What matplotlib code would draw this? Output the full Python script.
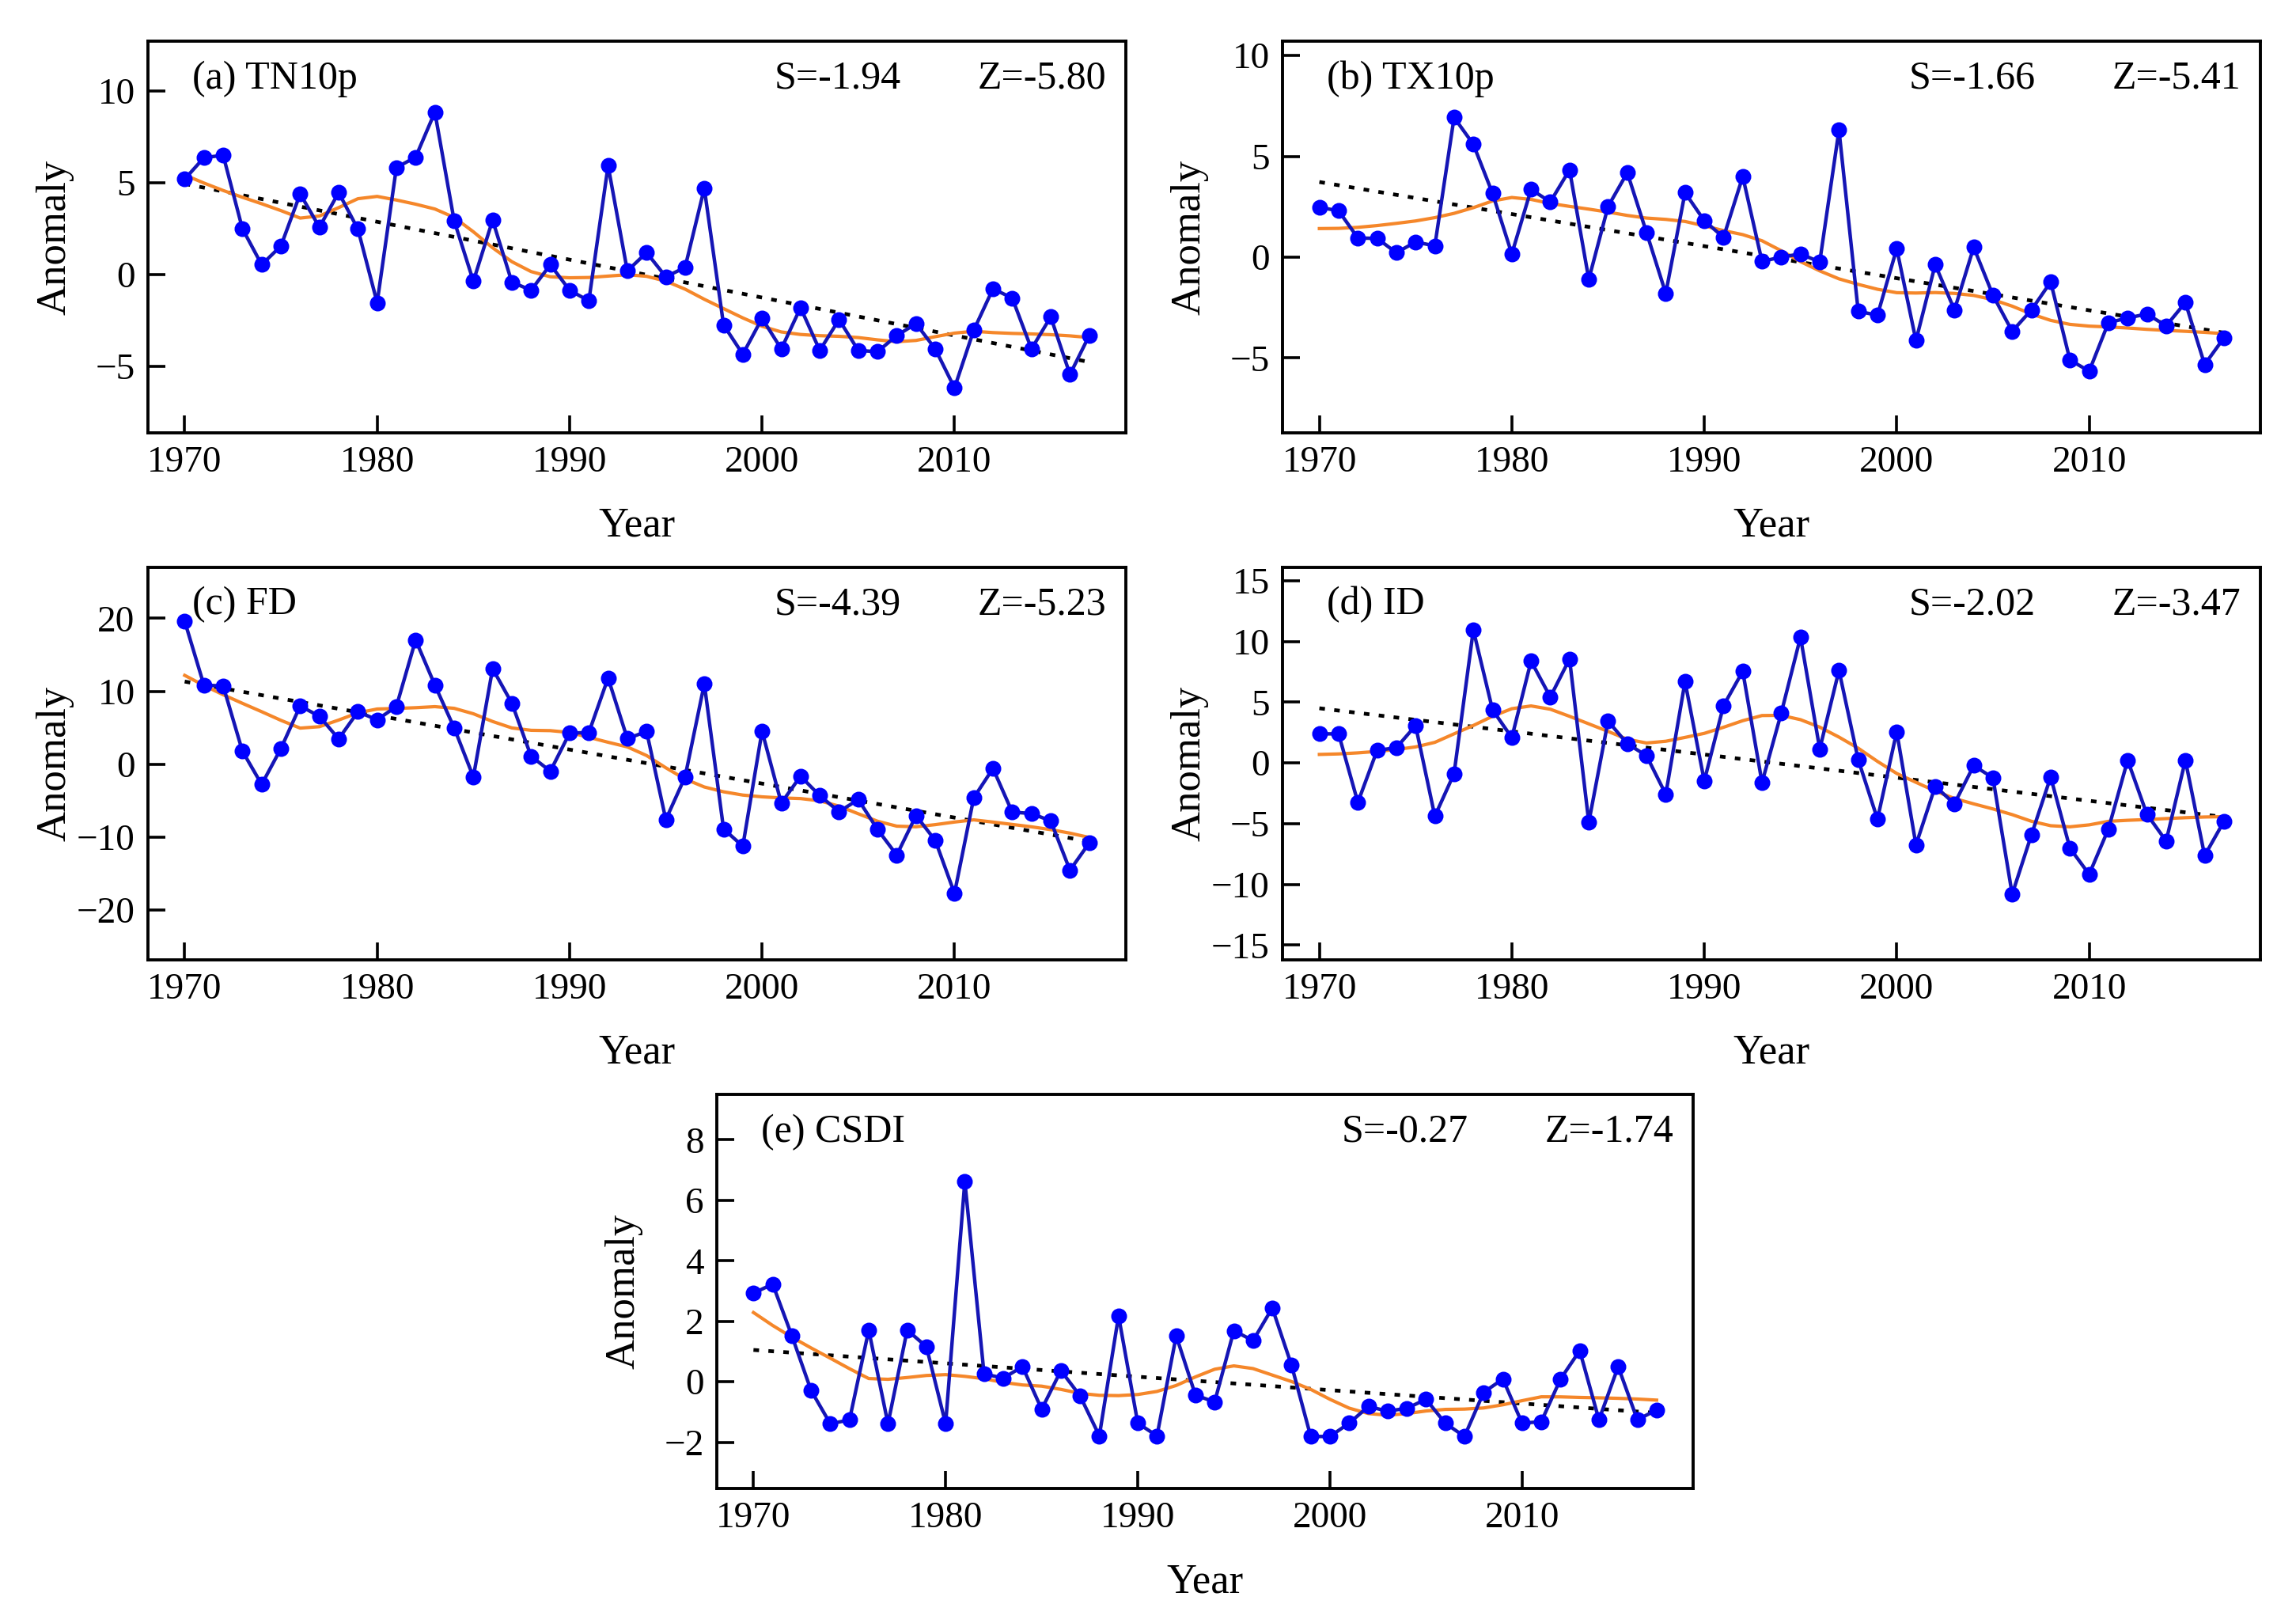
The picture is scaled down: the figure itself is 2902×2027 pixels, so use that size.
import numpy as np
import matplotlib
matplotlib.use("Agg")
import matplotlib.pyplot as plt

plt.rcParams['font.family'] = ['Liberation Serif', 'DejaVu Serif']

years = list(range(1970, 2018))

tn10p = [5.2, 6.37, 6.5, 2.5, 0.54, 1.56, 4.4, 2.58, 4.47, 2.48,
         -1.53, 5.83, 6.4, 8.85, 2.94, -0.36, 2.97, -0.41, -0.85, 0.54,
         -0.85, -1.43, 5.93, 0.2, 1.2, -0.12, 0.39, 4.7, -2.74, -4.34,
         -2.38, -4.05, -1.8, -4.13, -2.45, -4.13, -4.2, -3.32, -2.67, -4.05,
         -6.17, -3.03, -0.77, -1.28, -4.05, -2.3, -5.44, -3.32]

tx10p = [2.47, 2.3, 0.95, 0.93, 0.22, 0.75, 0.56, 6.93, 5.6, 3.16,
         0.16, 3.36, 2.74, 4.33, -1.1, 2.51, 4.19, 1.22, -1.8, 3.2,
         1.81, 0.98, 4.0, -0.21, 0.0, 0.16, -0.24, 6.31, -2.69, -2.88,
         0.42, -4.14, -0.37, -2.62, 0.49, -1.89, -3.68, -2.62, -1.23, -5.1,
         -5.66, -3.25, -3.02, -2.82, -3.41, -2.25, -5.33, -4.01]

fd = [19.6, 10.84, 10.73, 1.79, -2.77, 2.15, 7.99, 6.57, 3.47, 7.19,
      6.09, 7.92, 17.04, 10.84, 5.0, -1.75, 13.1, 8.36, 1.09, -0.95,
      4.27, 4.34, 11.82, 3.5, 4.5, -7.59, -1.75, 11.02, -8.87, -11.24,
      4.53, -5.33, -1.64, -4.31, -6.5, -4.85, -8.94, -12.45, -7.04, -10.44,
      -17.7, -4.6, -0.58, -6.57, -6.75, -7.77, -14.53, -10.8]

id_ = [2.39, 2.39, -3.25, 1.03, 1.25, 3.07, -4.39, -0.88, 10.94, 4.36,
       2.08, 8.38, 5.42, 8.55, -4.89, 3.44, 1.58, 0.59, -2.59, 6.69,
       -1.49, 4.71, 7.54, -1.62, 4.1, 10.35, 1.14, 7.61, 0.26, -4.63,
       2.57, -6.75, -1.93, -3.36, -0.22, -1.23, -10.81, -5.92, -1.16, -7.02,
       -9.17, -5.44, 0.22, -4.23, -6.43, 0.22, -7.63, -4.82]

csdi = [2.93, 3.23, 1.52, -0.29, -1.39, -1.26, 1.71, -1.39, 1.71, 1.16,
        -1.39, 6.63, 0.26, 0.12, 0.5, -0.91, 0.37, -0.47, -1.79, 2.18,
        -1.37, -1.79, 1.52, -0.44, -0.67, 1.69, 1.36, 2.44, 0.55, -1.81,
        -1.81, -1.37, -0.82, -0.97, -0.88, -0.58, -1.37, -1.81, -0.35, 0.09,
        -1.37, -1.32, 0.09, 1.03, -1.26, 0.5, -1.26, -0.93]

titles = ["(a) TN10p", "(b) TX10p", "(c) FD", "(d) ID", "(e) CSDI"]
s_texts = ["S=-1.94", "S=-1.66", "S=-4.39", "S=-2.02", "S=-0.27"]
z_texts = ["Z=-5.80", "Z=-5.41", "Z=-5.23", "Z=-3.47", "Z=-1.74"]
yticks_list = [[10, 5, 0, -5], [10, 5, 0, -5], [20, 10, 0, -10, -20],
               [15, 10, 5, 0, -5, -10, -15], [8, 6, 4, 2, 0, -2]]
ylims = [(-8.6, 12.7), (-8.7, 10.7), (-26.8, 27.0), (-16.2, 16.1), (-3.53, 9.5)]
xticks = [1970, 1980, 1990, 2000, 2010]
series = [tn10p, tx10p, fd, id_, csdi]


def lowess(x, y, frac=0.25, iters=3):
    """Robust LOWESS (local linear, tricube weights, bisquare robustness)."""
    x = np.asarray(x, float)
    y = np.asarray(y, float)
    n = len(x)
    r = int(np.ceil(frac * n))
    rob = np.ones(n)
    fit = np.zeros(n)
    for _ in range(iters + 1):
        for i in range(n):
            d = np.abs(x - x[i])
            h = np.sort(d)[r]
            w = np.clip(1 - (d / h) ** 3, 0, None) ** 3 * rob
            W = np.sum(w)
            xm = np.sum(w * x) / W
            ym = np.sum(w * y) / W
            den = np.sum(w * (x - xm) ** 2)
            b = np.sum(w * (x - xm) * (y - ym)) / den if den > 0 else 0.0
            fit[i] = ym + b * (x[i] - xm)
        res = y - fit
        s = np.median(np.abs(res))
        u = res / (6 * s)
        rob = np.clip(1 - u ** 2, 0, None) ** 2
    return fit


W, H = 1550.0, 1083.0
boxes = [(100, 28, 760, 292), (866, 28, 1526, 292),
         (100, 383, 760, 648), (866, 383, 1526, 648),
         (484, 739, 1143, 1005)]

fig = plt.figure(figsize=(14.51, 10.135), dpi=200)
for i in range(5):
    l, t, r, b = boxes[i]
    ax = fig.add_axes([l / W, 1 - b / H, (r - l) / W, (b - t) / H])
    yv = series[i]
    x = np.array(years, float)
    sm = lowess(x, yv, frac=0.25, iters=3)
    coef = np.polyfit(x, yv, 1)
    ax.plot([1970, 2017], np.polyval(coef, [1970, 2017]), color='black',
            linestyle=(0, (1.5, 2.5)), linewidth=1.7, zorder=2)
    ax.plot(x, sm, color='#F5872A', linewidth=1.5, zorder=3)
    ax.plot(years, yv, color='#1515B5', linewidth=1.6, marker='o',
            markersize=6.2, markerfacecolor='#0000FF', markeredgecolor='#0000FF',
            zorder=4)
    ax.set_xlim(1968.1, 2018.9)
    ax.set_ylim(*ylims[i])
    ax.set_xticks(xticks)
    ax.set_yticks(yticks_list[i])
    ax.tick_params(direction='in', length=8, width=1.3, labelsize=17,
                   top=False, right=False, pad=6)
    for sp in ax.spines.values():
        sp.set_linewidth(1.4)
    ax.set_xlabel("Year", fontsize=19, va='center')
    ax.set_ylabel("Anomaly", fontsize=19, va='center')
    ax.xaxis.set_label_coords(0.5, -0.238)
    ax.yaxis.set_label_coords(-0.095, 0.5)
    ax.text(0.045, 0.905, titles[i], transform=ax.transAxes, fontsize=18,
            ha='left', va='center')
    ax.text(0.705, 0.905, s_texts[i], transform=ax.transAxes, fontsize=18,
            ha='center', va='center')
    ax.text(0.98, 0.905, z_texts[i], transform=ax.transAxes, fontsize=18,
            ha='right', va='center')

fig.savefig("out.png", dpi=200)
